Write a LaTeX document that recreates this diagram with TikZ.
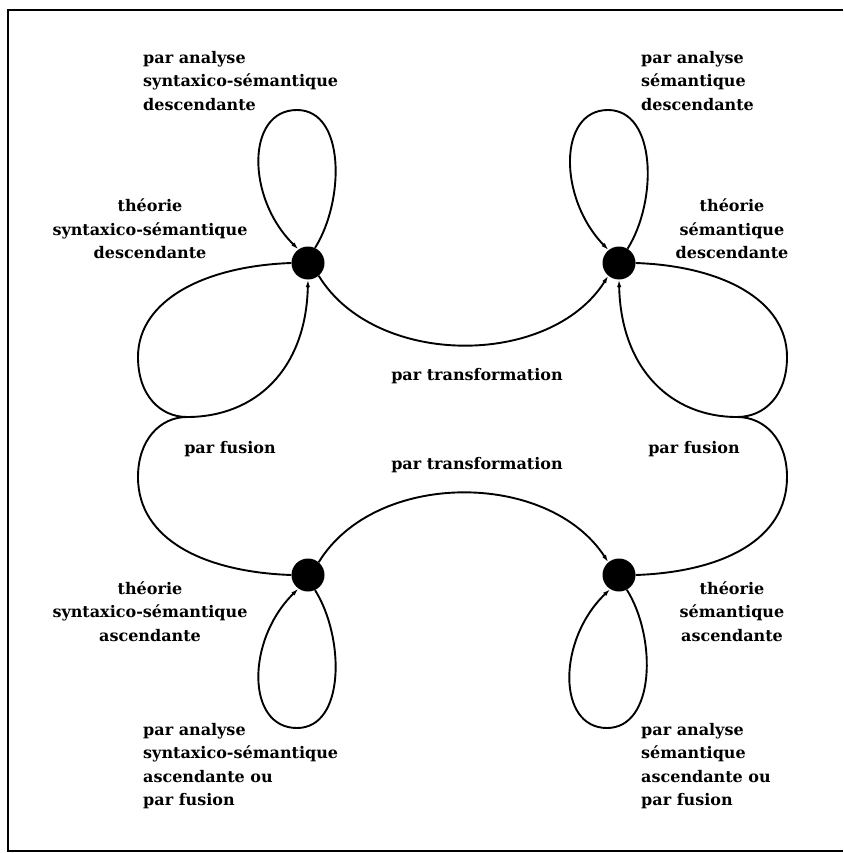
\documentclass[tikz,border=0pt]{standalone}
\usepackage{fontspec}
\setmainfont{DejaVu Serif}
\usetikzlibrary{arrows.meta}
\begin{document}
\begin{tikzpicture}[x=1pt,y=-1pt,
  state/.style={circle,fill=black,minimum size=33pt,inner sep=0pt},
  edge/.style={line width=1.9pt},
  arr/.style={edge,-{Latex[length=7.5pt,width=4.5pt]}},
  lbl/.style={font=\bfseries\fontsize{16}{23.5}\selectfont,inner sep=0pt}]
\useasboundingbox (0,0) rectangle (843,853);
\draw[line width=2.2pt] (843,10) -- (8,10) -- (8,851) -- (843,851);

\node[state] (TL) at (308,263) {};
\node[state] (TR) at (619,263) {};
\node[state] (BL) at (308,575) {};
\node[state] (BR) at (619,575) {};

% self loops
\draw[arr] (TL.65) .. controls (345,200) and (345,110) .. (297,110) .. controls (246,110) and (246,198) .. (TL.125);
\draw[arr] (TR.59) .. controls (658,200) and (656,110) .. (608,110) .. controls (558,110) and (558,198) .. (TR.129);
\draw[arr] (BL.-65) .. controls (345,638) and (345,728) .. (297,728) .. controls (246,728) and (246,640) .. (BL.-125);
\draw[arr] (BR.-62) .. controls (657,638) and (655,728) .. (607,728) .. controls (557,728) and (557,640) .. (BR.-122);

% transformations
\draw[arr] (TL.-50) .. controls (375,368) and (550,368) .. (TR.-130);
\draw[arr] (BL.50) .. controls (375,470) and (548,470) .. (BR.130);

% fusions
\coordinate (JL) at (187,417);
\draw[edge] (TL.west) .. controls (205,266) and (138,300) .. (138,357) .. controls (138,395) and (160,417) .. (JL);
\draw[edge] (BL.west) .. controls (205,572) and (138,540) .. (138,477) .. controls (138,440) and (160,417) .. (JL);
\draw[arr] (JL) .. controls (255,417) and (306,370) .. (TL.south);

\coordinate (JR) at (737,417);
\draw[edge] (TR.east) .. controls (722,266) and (787,300) .. (787,357) .. controls (787,395) and (765,417) .. (JR);
\draw[edge] (BR.east) .. controls (722,572) and (787,540) .. (787,477) .. controls (787,440) and (765,417) .. (JR);
\draw[arr] (JR) .. controls (672,417) and (621,370) .. (TR.south);

% labels
\node[lbl,align=left,anchor=north west] (l1) at (143,51) {par analyse\\syntaxico-sémantique\\descendante};
\node[lbl,align=center,anchor=north] (l2) at (150,199) {théorie\\syntaxico-sémantique\\descendante};
\node[lbl,align=left,anchor=north west] (l3) at (641,51) {par analyse\\sémantique\\descendante};
\node[lbl,align=center,anchor=north] (l4) at (732,199) {théorie\\sémantique\\descendante};
\node[lbl,anchor=base] (l5) at (477,380) {par transformation};
\node[lbl,anchor=base] (l6) at (477,469) {par transformation};
\node[lbl,anchor=base] (l7) at (230,453) {par fusion};
\node[lbl,anchor=base] (l8) at (694,453) {par fusion};
\node[lbl,align=center,anchor=north] (l9) at (150,581) {théorie\\syntaxico-sémantique\\ascendante};
\node[lbl,align=center,anchor=north] (l10) at (732,581) {théorie\\sémantique\\ascendante};
\node[lbl,align=left,anchor=north west] (l11) at (143,723) {par analyse\\syntaxico-sémantique\\ascendante ou\\par fusion};
\node[lbl,align=left,anchor=north west] (l12) at (641,723) {par analyse\\sémantique\\ascendante ou\\par fusion};
\end{tikzpicture}
\end{document}
